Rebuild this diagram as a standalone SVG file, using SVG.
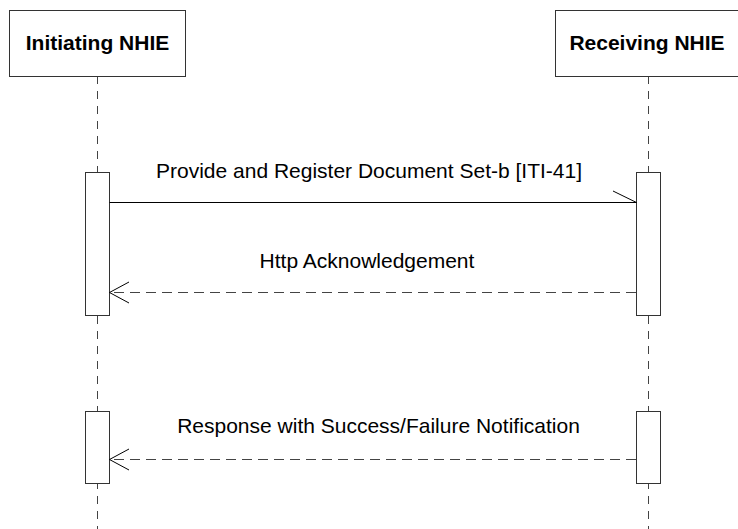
<svg xmlns="http://www.w3.org/2000/svg" width="738" height="529" viewBox="0 0 738 529">
  <style>
    .head { fill: #ffffff; stroke: #333333; stroke-width: 1; }
    .head-label { font-family: "Liberation Sans", Arial, sans-serif; font-size: 21px; font-weight: bold; fill: #000000; text-anchor: middle; }
    .lifeline { stroke: #444444; stroke-width: 1; stroke-dasharray: 8,7; fill: none; }
    .act { fill: #ffffff; stroke: #333333; stroke-width: 1; }
    .msg { stroke: #000000; stroke-width: 1; fill: none; }
    .reply { stroke: #444444; stroke-width: 1; stroke-dasharray: 10,6; fill: none; }
    .tip { stroke: #000000; stroke-width: 1; fill: none; }
    .msg-label { font-family: "Liberation Sans", Arial, sans-serif; font-size: 21px; fill: #000000; text-anchor: middle; }
  </style>

  <rect width="738" height="529" fill="#ffffff"/>

  <!-- Lifelines -->
  <g id="lifelines">
    <line class="lifeline" x1="97.5" y1="76" x2="97.5" y2="529"/>
    <line class="lifeline" x1="648.5" y1="76" x2="648.5" y2="529"/>
  </g>

  <!-- Participant: Initiating NHIE -->
  <g id="initiating-nhie">
    <rect class="head" x="9.5" y="10.5" width="176" height="66"/>
    <text class="head-label" x="97.5" y="50">Initiating NHIE</text>
    <rect class="act" x="85.5" y="172.5" width="24" height="143"/>
    <rect class="act" x="85.5" y="411.5" width="24" height="72"/>
  </g>

  <!-- Participant: Receiving NHIE -->
  <g id="receiving-nhie">
    <rect class="head" x="555.5" y="10.5" width="186" height="66"/>
    <text class="head-label" x="647" y="50">Receiving NHIE</text>
    <rect class="act" x="636.5" y="172.5" width="24" height="143"/>
    <rect class="act" x="636.5" y="411.5" width="24" height="72"/>
  </g>

  <!-- Messages -->
  <g id="connectors">
    <!-- synchronous request, half-open arrowhead -->
    <line class="msg" x1="109.5" y1="202.5" x2="636.5" y2="202.5"/>
    <polyline class="tip" points="613,191 636.5,202.5"/>
    <text class="msg-label" x="369" y="178">Provide and Register Document Set-b [ITI-41]</text>

    <!-- acknowledgement reply -->
    <line class="reply" x1="636" y1="292.5" x2="110" y2="292.5"/>
    <polyline class="tip" points="129,282 109.5,292.5 129,303"/>
    <text class="msg-label" x="367" y="268">Http Acknowledgement</text>

    <!-- asynchronous response -->
    <line class="reply" x1="636" y1="459.5" x2="110" y2="459.5"/>
    <polyline class="tip" points="129,449 109.5,459.5 129,470"/>
    <text class="msg-label" x="378.5" y="433">Response with Success/Failure Notification</text>
  </g>
</svg>
